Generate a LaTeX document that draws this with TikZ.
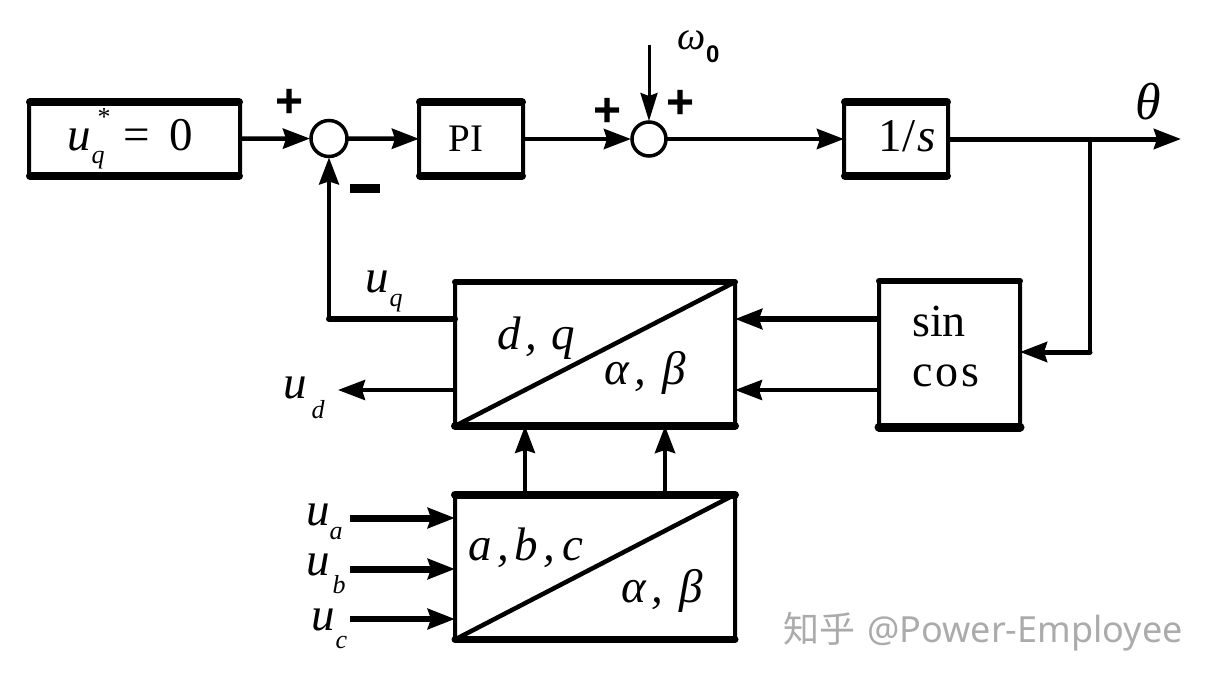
\documentclass[tikz,border=0pt]{standalone}
\usepackage{fontspec}
\setmainfont{Liberation Serif}
\newfontfamily\cjkfont{Noto Sans CJK SC}
\newfontfamily\wmfont{Noto Sans}
\newfontfamily\signfont{Liberation Sans}
\usetikzlibrary{arrows.meta,calc}
\tikzset{
  blk/.style={draw=black,line width=4pt,rounded corners=3pt,outer sep=0pt,inner sep=0pt},
  edge/.style={line width=#1,line cap=round},
  sumj/.style={draw=black,circle,line width=3.5pt,minimum size=33pt,inner sep=0pt,outer sep=1pt},
  conn/.style={line width=#1,-{Stealth[length=27pt,width=20pt,inset=3pt]}},
  wire/.style={line width=#1,line cap=round},
  lbl/.style={inner sep=0pt,font=\fontsize{47}{47}\selectfont\itshape},
  txt/.style={inner sep=0pt,font=\fontsize{46}{46}\selectfont},
  sign/.style={inner sep=0pt,font=\fontsize{48}{48}\signfont\bfseries},
  watermark/.style={inner sep=0pt,text=black!33,font=\fontsize{36}{38}\selectfont}
}
\newcommand{\ulab}[3]{u\rlap{\kern#1pt\raisebox{-#3pt}{\fontsize{26}{26}\selectfont\itshape #2}}}
\begin{document}
\begin{tikzpicture}[x=1pt,y=-1pt]
\useasboundingbox (0,0) rectangle (1211,685);
% blocks
\node[blk,minimum width=211pt,minimum height=74pt] (ref) at (134.5,139) {};
\node[blk,minimum width=104pt,minimum height=74pt] (pi) at (471,139) {};
\node[blk,minimum width=104pt,minimum height=74pt] (int) at (896,139) {};
\node[blk,minimum width=280pt,minimum height=144pt] (dq) at (595,354) {};
\node[blk,minimum width=280pt,minimum height=145pt] (abc) at (595,567) {};
\node[blk,minimum width=141pt,minimum height=146pt] (sc) at (949.5,354) {};
% heavier top and bottom edges
\foreach \b in {ref,pi,int}{
  \draw[edge=8pt] (\b.north west) ++(1,0) -- ($(\b.north east)+(-1,0)$);
  \draw[edge=8pt] (\b.south west) ++(1,0) -- ($(\b.south east)+(-1,0)$);
}
\draw[edge=6pt] (dq.north west) -- (dq.north east);
\draw[edge=8pt] (dq.south west) -- (dq.south east);
\draw[edge=8pt] (abc.north west) -- (abc.north east);
\draw[edge=7pt] (abc.south west) -- (abc.south east);
\draw[edge=6pt] (sc.north west) -- (sc.north east);
\draw[edge=9pt] (sc.south west) -- (sc.south east);
% diagonals
\draw[edge=4.5pt] (dq.south west) -- (dq.north east);
\draw[edge=4.5pt] (abc.south west) -- (abc.north east);
% summing junctions
\node[sumj,minimum size=36pt] (s1) at (329,138.5) {};
\node[sumj,minimum size=34pt] (s2) at (649,139) {};
% helper coordinates
\coordinate (w0) at (649,45);
\coordinate (out) at (1181,139);
\coordinate (tap) at (1090,139);
\coordinate (fb) at (1090,352);
\coordinate (r1) at (800,319);
\coordinate (r2) at (800,390);
\coordinate (c1) at (525,460);
\coordinate (c2) at (665,460);
\coordinate (ud) at (338,390);
\coordinate (ua) at (350,518);
\coordinate (ub) at (350,569);
\coordinate (uc) at (350,619);
% connectors
\draw[conn=4.5pt] (ref) -- (s1);
\draw[conn=4.5pt] (s1) -- (pi);
\draw[conn=4.5pt] (pi) -- (s2);
\draw[conn=4.5pt] (s2) -- (int);
\draw[conn=5pt] (int) -- (out);
\draw[line width=3pt,-{Stealth[length=28pt,width=17pt,inset=3pt]}] (w0) -- (s2);
\draw[wire=4pt] (tap) -- (fb);
\draw[conn=5pt,line cap=round] (fb) -- (sc.east|-fb);
\draw[conn=6pt] (sc.west|-r1) -- (dq.east|-r1);
\draw[conn=4pt] (sc.west|-r2) -- (dq.east|-r2);
\draw[conn=4pt] (dq.west|-r2) -- (ud);
\draw[wire=6pt] (dq.west|-r1) -- (s1|-r1);
\draw[conn=3.5pt] (s1|-r1) -- (s1);
\draw[conn=3.5pt] (abc.north-|c1) -- (dq.south-|c1);
\draw[conn=4.5pt] (abc.north-|c2) -- (dq.south-|c2);
\draw[conn=7pt] (ua) -- (abc.west|-ua);
\draw[conn=7pt] (ub) -- (abc.west|-ub);
\draw[conn=6pt] (uc) -- (abc.west|-uc);
% labels
\node[lbl,anchor=base west] (t0) at (67,150) {u\rlap{\kern1pt\raisebox{-13pt}{\fontsize{26}{26}\selectfont q}}\rlap{\kern7pt\raisebox{25pt}{\fontsize{26}{26}\selectfont\upshape *}}\kern33pt\upshape =\kern19pt 0};
\node[inner sep=0pt,font=\fontsize{39}{39}\selectfont] (t1) at (466,139) {PI};
\node[lbl,anchor=base west] (t2) at (878,151) {\upshape 1\kern1pt/\kern2pt\itshape s};
\node[lbl,anchor=base west] (t3) at (365,292) {\ulab{1}{q}{14}};
\node[lbl,anchor=base west] (t4) at (283,398) {\ulab{5}{d}{20}};
\node[lbl,anchor=base west] (t5) at (306,525) {\ulab{0}{a}{14}};
\node[lbl,anchor=base west] (t6) at (306,575) {\ulab{3}{b}{18}};
\node[lbl,anchor=base west] (t7) at (311,630) {\ulab{1}{c}{18}};
\node[lbl,anchor=base west] (t8) at (497,349) {d\kern5pt,\kern14pt q};
\node[lbl,anchor=base west] (t9) at (604,384) {α\kern6pt,\kern16pt β};
\node[lbl,anchor=base west] (t10) at (468,560) {a\kern6pt,\kern5pt b\kern6pt,\kern7pt c};
\node[lbl,anchor=base west] (t11) at (621,602) {α\kern6pt,\kern16pt β};
\node[txt,anchor=base west] (t12) at (912,336) {sin};
\node[txt,anchor=base west] (t13) at (912,386) {c\kern3pt o\kern3pt s};
\node[inner sep=0pt,font=\fontsize{40}{40}\selectfont\itshape,anchor=base west] (t14) at (677,50) {ω};
\node[inner sep=0pt,font=\fontsize{24}{24}\signfont\bfseries,anchor=base west] (t15) at (706,63) {0};
\node[inner sep=0pt,font=\fontsize{52}{52}\selectfont\itshape,anchor=base west] (t16) at (1135,119) {θ};
\node[sign] (p1) at (290,103) {+};
\node[sign] (p2) at (608,112) {+};
\node[sign] (p3) at (681,104) {+};
\node[fill=black,inner sep=0pt,minimum width=30pt,minimum height=9pt] (m1) at (365,188) {};
\node[watermark,anchor=west] (wm) at (783,632) {{\cjkfont 知乎}\kern12pt{\wmfont @Power-Employee}};
\end{tikzpicture}
\end{document}
